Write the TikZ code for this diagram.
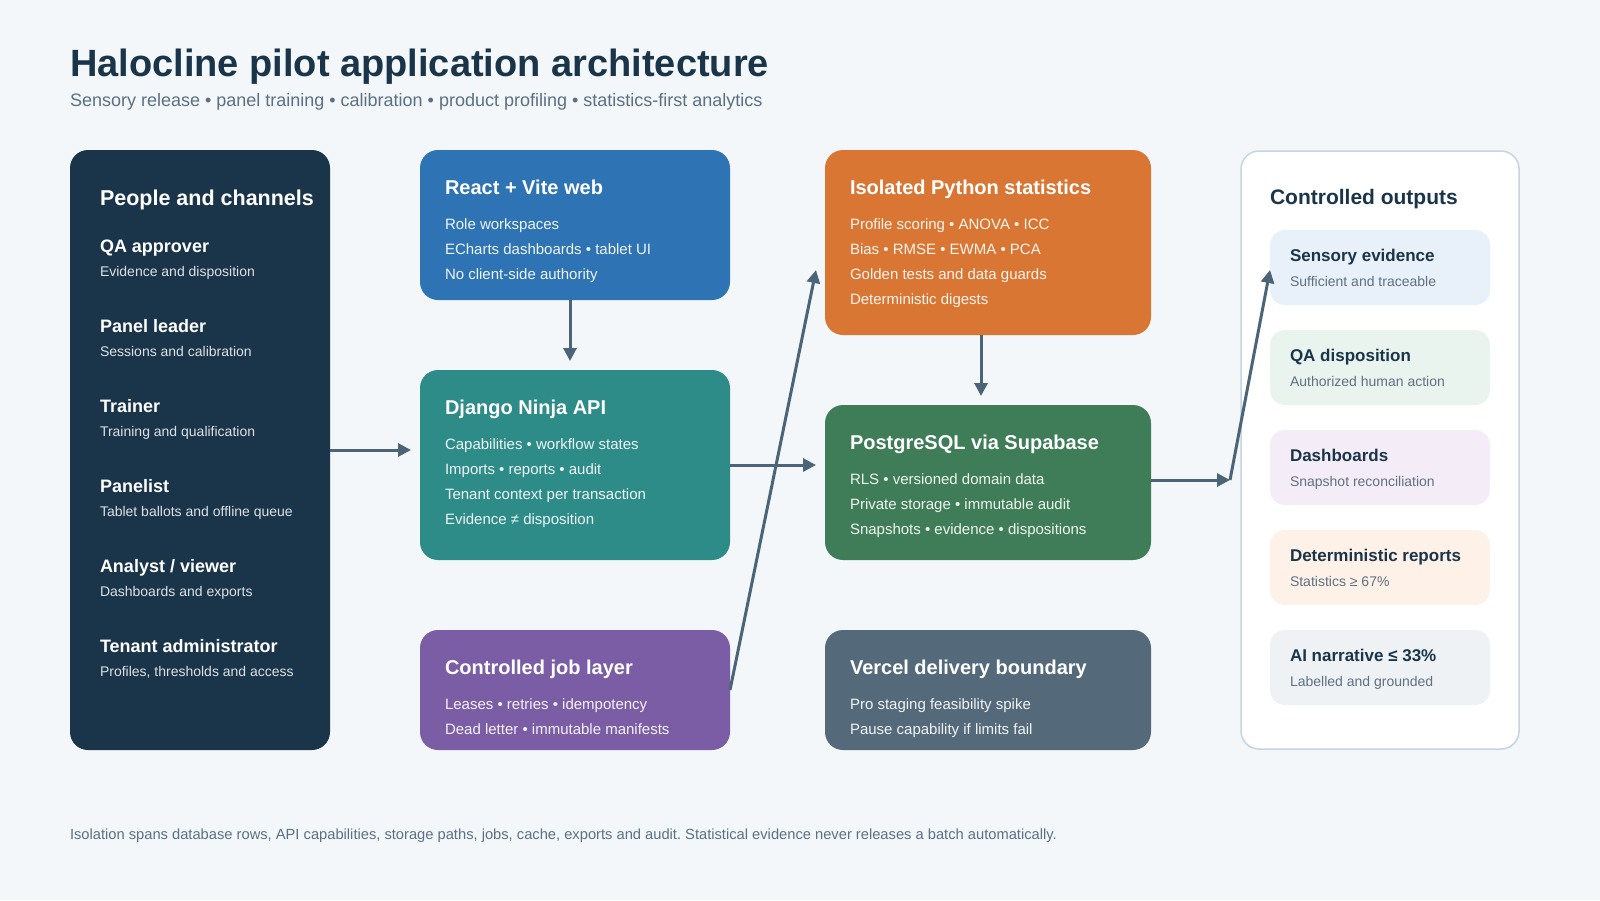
\documentclass[tikz,border=0pt]{standalone}
\usepackage{fontspec}
\setmainfont{Liberation Sans}
\usetikzlibrary{arrows.meta}
\frenchspacing
\definecolor{bg}{HTML}{F3F7FA}
\definecolor{navy}{HTML}{1A354A}
\definecolor{cblue}{HTML}{2E73B4}
\definecolor{cteal}{HTML}{2D8B88}
\definecolor{cpurple}{HTML}{7B5DA6}
\definecolor{corange}{HTML}{D97633}
\definecolor{cgreen}{HTML}{3E7D57}
\definecolor{cslate}{HTML}{546A7B}
\definecolor{arrowc}{HTML}{4B6477}
\definecolor{subc}{HTML}{5B7083}
\definecolor{cardsub}{HTML}{5F7182}
\definecolor{obord}{HTML}{C5D4E0}
\definecolor{kblue}{HTML}{E8F0FA}
\definecolor{kgreen}{HTML}{EAF4EF}
\definecolor{kpurple}{HTML}{F4EDF8}
\definecolor{korange}{HTML}{FEF1E8}
\definecolor{kgray}{HTML}{EEF2F5}
\tikzset{
  panel/.style={rectangle, rounded corners=18pt, inner sep=0pt, outer sep=0pt, draw=none},
  card/.style={rectangle, rounded corners=15pt, inner sep=0pt, outer sep=0pt, draw=none, minimum width=220pt, minimum height=75pt},
  txt/.style={anchor=base west, inner sep=0pt, outer sep=0pt},
  ttl/.style={txt, text=white, font=\fontsize{20pt}{24pt}\selectfont\bfseries},
  ln/.style={txt, text=white, text opacity=0.92, font=\fontsize{15pt}{18pt}\selectfont},
  bigttl/.style={txt, font=\fontsize{21.5pt}{26pt}\selectfont\bfseries},
  who/.style={txt, text=white, font=\fontsize{18pt}{22pt}\selectfont\bfseries},
  whosub/.style={txt, text=white, text opacity=0.85, font=\fontsize{14pt}{17pt}\selectfont},
  cardttl/.style={txt, text=navy, font=\fontsize{17pt}{20pt}\selectfont\bfseries},
  cardsubt/.style={txt, text=cardsub, font=\fontsize{14pt}{17pt}\selectfont},
  arr/.style={draw=arrowc, line width=3pt, -{Triangle[length=13pt,width=13pt]}}
}
\begin{document}
\begin{tikzpicture}[x=1pt,y=-1pt]
\fill[bg] (0,0) rectangle (1600,900);
\node[txt, text=navy, font=\fontsize{38pt}{44pt}\selectfont\bfseries] (title) at (70,76) {Halocline pilot application architecture};
\node[txt, text=subc, font=\fontsize{18pt}{22pt}\selectfont] (subtitle) at (70,106.5) {Sensory release • panel training • calibration • product profiling • statistics-first analytics};

% main boxes
\node[panel, fill=navy, minimum width=260pt, minimum height=600pt] (people) at (200,450) {};
\node[panel, fill=cblue, minimum width=310pt, minimum height=150pt] (react) at (575,225) {};
\node[panel, fill=cteal, minimum width=310pt, minimum height=190pt] (django) at (575,465) {};
\node[panel, fill=cpurple, minimum width=310pt, minimum height=120pt] (job) at (575,690) {};
\node[panel, fill=corange, minimum width=326pt, minimum height=185pt] (python) at (988,242.5) {};
\node[panel, fill=cgreen, minimum width=326pt, minimum height=155pt] (postgres) at (988,482.5) {};
\node[panel, fill=cslate, minimum width=326pt, minimum height=120pt] (vercel) at (988,690) {};
\node[panel, fill=white, draw=obord, line width=1.5pt, minimum width=278pt, minimum height=598pt] (outputs) at (1380,450) {};

% people
\node[bigttl, text=white] (people-t) at (100,205) {People and channels};
\node[who] (w1) at (100,252) {QA approver};
\node[whosub] (s1) at (100,276) {Evidence and disposition};
\node[who] (w2) at (100,332) {Panel leader};
\node[whosub] (s2) at (100,356) {Sessions and calibration};
\node[who] (w3) at (100,412) {Trainer};
\node[whosub] (s3) at (100,436) {Training and qualification};
\node[who] (w4) at (100,492) {Panelist};
\node[whosub] (s4) at (100,516) {Tablet ballots and offline queue};
\node[who] (w5) at (100,572) {Analyst / viewer};
\node[whosub] (s5) at (100,596) {Dashboards and exports};
\node[who] (w6) at (100,652) {Tenant administrator};
\node[whosub] (s6) at (100,676) {Profiles, thresholds and access};

% react
\node[ttl] (react-t) at (445,194) {React + Vite web};
\foreach \t [count=\i] in {Role workspaces, ECharts dashboards • tablet UI, No client-side authority}
  \node[ln] (react-l\i) at (445,204+25*\i) {\t};
% django
\node[ttl] (django-t) at (445,414) {Django Ninja API};
\foreach \t [count=\i] in {Capabilities • workflow states, Imports • reports • audit, Tenant context per transaction, Evidence ≠ disposition}
  \node[ln] (django-l\i) at (445,424+25*\i) {\t};
% job
\node[ttl] (job-t) at (445,674) {Controlled job layer};
\foreach \t [count=\i] in {Leases • retries • idempotency, Dead letter • immutable manifests}
  \node[ln] (job-l\i) at (445,684+25*\i) {\t};
% python
\node[ttl] (python-t) at (850,194) {Isolated Python statistics};
\foreach \t [count=\i] in {Profile scoring • ANOVA • ICC, Bias • RMSE • EWMA • PCA, Golden tests and data guards, Deterministic digests}
  \node[ln] (python-l\i) at (850,204+25*\i) {\t};
% postgres
\node[ttl] (postgres-t) at (850,449) {PostgreSQL via Supabase};
\foreach \t [count=\i] in {RLS • versioned domain data, Private storage • immutable audit, Snapshots • evidence • dispositions}
  \node[ln] (postgres-l\i) at (850,459+25*\i) {\t};
% vercel
\node[ttl] (vercel-t) at (850,674) {Vercel delivery boundary};
\foreach \t [count=\i] in {Pro staging feasibility spike, Pause capability if limits fail}
  \node[ln] (vercel-l\i) at (850,684+25*\i) {\t};

% outputs
\node[bigttl, text=navy, font=\fontsize{21pt}{26pt}\selectfont\bfseries] (outputs-t) at (1270,204.5) {Controlled outputs};
\node[card, fill=kblue] (card1) at (1380,267.5) {};
\node[card, fill=kgreen] (card2) at (1380,367.5) {};
\node[card, fill=kpurple] (card3) at (1380,467.5) {};
\node[card, fill=korange] (card4) at (1380,567.5) {};
\node[card, fill=kgray] (card5) at (1380,667.5) {};
\node[cardttl] (c1t) at (1290,261) {Sensory evidence};
\node[cardsubt] (c1s) at (1290,286) {Sufficient and traceable};
\node[cardttl] (c2t) at (1290,361) {QA disposition};
\node[cardsubt] (c2s) at (1290,386) {Authorized human action};
\node[cardttl] (c3t) at (1290,461) {Dashboards};
\node[cardsubt] (c3s) at (1290,486) {Snapshot reconciliation};
\node[cardttl] (c4t) at (1290,561) {Deterministic reports};
\node[cardsubt] (c4s) at (1290,586) {Statistics ≥ 67\%};
\node[cardttl] (c5t) at (1290,661) {AI narrative ≤ 33\%};
\node[cardsubt] (c5s) at (1290,686) {Labelled and grounded};

% footer
\node[txt, text=subc, font=\fontsize{14.7pt}{17pt}\selectfont] (footer) at (70,839) {Isolation spans database rows, API capabilities, storage paths, jobs, cache, exports and audit. Statistical evidence never releases a batch automatically.};

% connectors
\draw[arr] (people.east) -- ([xshift=-9pt]django.west |- people.east);
\draw[arr] ([xshift=-5pt]react.south) -- ([xshift=-5pt,yshift=9pt]django.north);
\draw[arr] (django.east) -- ([xshift=-9pt]postgres.west |- django.east);
\draw[arr] (job.east) -- ([xshift=-9pt,yshift=-27.5pt]python.west);
\draw[arr] ([xshift=-7pt]python.south) -- ([xshift=-7pt,yshift=9pt]postgres.north);
\coordinate (bend) at (1230,480);
\draw[arr] ([yshift=2.5pt]postgres.east) -- (bend);
\draw[arr] (bend) -- ([yshift=-2.5pt]card1.west);
\end{tikzpicture}
\end{document}
